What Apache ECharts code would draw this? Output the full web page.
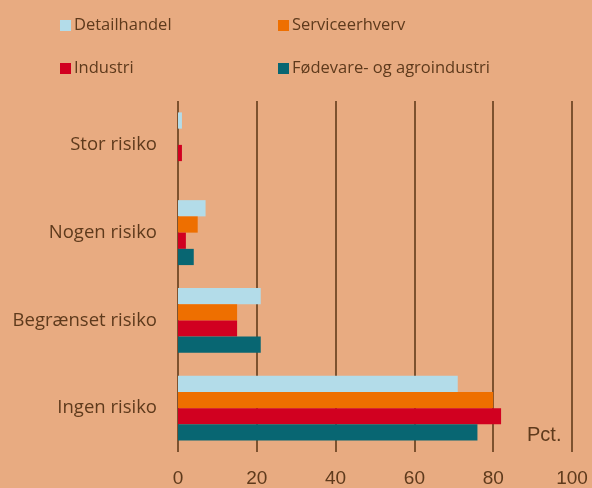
<!DOCTYPE html>
<html>
<head>
<meta charset="utf-8">
<script src="https://cdn.jsdelivr.net/npm/echarts@6/dist/echarts.min.js"></script>
<style>
  html, body { margin: 0; padding: 0; background: #e8ab81; }
  #chart { width: 592px; height: 488px; }
</style>
</head>
<body>
<div id="chart"></div>
<script>
// kategorier (nederst til øverst)
const categories = ['Ingen risiko', 'Begrænset risiko', 'Nogen risiko', 'Stor risiko']
const detailhandel = [71, 21, 7, 1]
const serviceerhverv = [80, 15, 5, 0]
const industri = [82, 15, 2, 1]
const foedevare = [76, 21, 4, 0]
const xTicks = [0, 20, 40, 60, 80, 100]

const textColor = '#5e3a1c'
const font = 'Liberation Sans, Arial, sans-serif'
const font2 = 'Open Sans, sans-serif'

const myChart = echarts.init(document.getElementById('chart'))

function bar(name, data, color) {
  return {
    name: name,
    type: 'bar',
    data: data,
    barGap: '0%',
    barCategoryGap: '26%',
    itemStyle: { color: color },
    z: 2
  }
}

myChart.setOption({
  backgroundColor: '#e8ab81',
  animation: false,
  textStyle: { fontFamily: font },
  legend: [
    {
      left: 55,
      top: 12,
      orient: 'vertical',
      itemWidth: 11,
      itemHeight: 11,
      itemGap: 26,
      icon: 'rect',
      data: ['Detailhandel', 'Industri'],
      textStyle: { color: textColor, fontSize: 16.5, fontFamily: font2, padding: [0, 0, 0, -2] }
    },
    {
      left: 273,
      top: 12,
      orient: 'vertical',
      itemWidth: 11,
      itemHeight: 11,
      itemGap: 26,
      icon: 'rect',
      data: ['Serviceerhverv', 'Fødevare- og agroindustri'],
      textStyle: { color: textColor, fontSize: 16.5, fontFamily: font2, padding: [0, 0, 0, -2] }
    }
  ],
  grid: {
    left: 178,
    right: 20,
    top: 101,
    bottom: 35
  },
  xAxis: {
    type: 'value',
    min: xTicks[0],
    max: xTicks[xTicks.length - 1],
    interval: 20,
    axisLine: { show: false },
    axisTick: { show: false },
    axisLabel: { color: textColor, fontSize: 19, margin: 17, fontFamily: font },
    splitLine: { show: true, lineStyle: { color: '#5a3515', width: 1.5 } }
  },
  yAxis: {
    type: 'category',
    data: categories,
    axisLine: { show: false },
    axisTick: { show: false },
    axisLabel: { color: textColor, fontSize: 18.5, margin: 21, fontFamily: font2 }
  },
  graphic: [
    {
      type: 'text',
      left: 527,
      top: 425,
      style: { text: 'Pct.', fill: textColor, fontSize: 20, fontFamily: font }
    }
  ],
  series: [
    bar('Detailhandel', detailhandel, '#b3dce9'),
    bar('Serviceerhverv', serviceerhverv, '#ee6f00'),
    bar('Industri', industri, '#d10020'),
    bar('Fødevare- og agroindustri', foedevare, '#086672')
  ]
})
</script>
</body>
</html>
